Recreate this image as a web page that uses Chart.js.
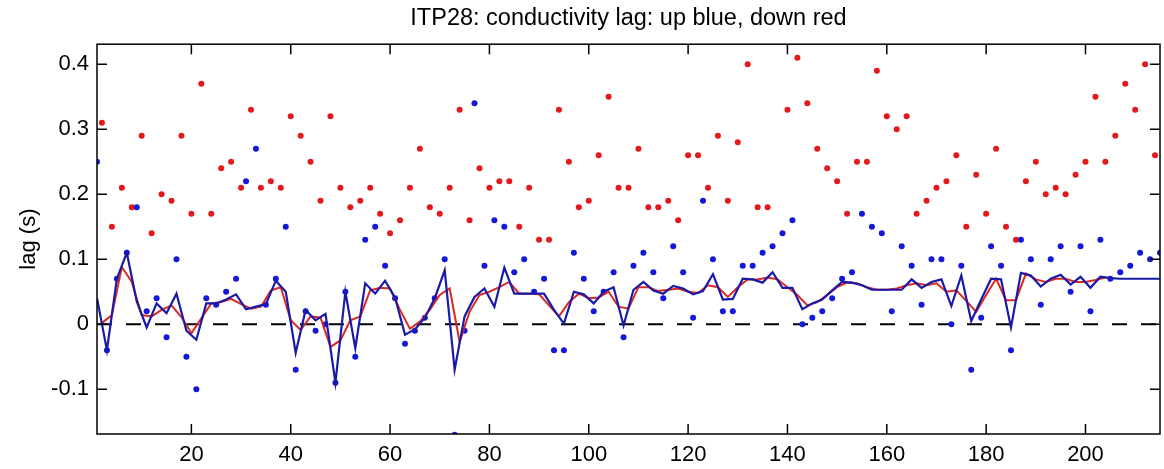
<!DOCTYPE html>
<html>
<head>
<meta charset="utf-8">
<script src="https://cdn.jsdelivr.net/npm/chart.js@4"></script>
<style>
  html, body { margin: 0; padding: 0; background: #fff; }
  canvas { display: block; }
</style>
</head>
<body>
<canvas id="lagChart" width="1164" height="469"></canvas>
<script>
// lag (s) per profile; up casts are the odd profiles, down casts the even ones
const upLag = [
  0.25, -0.04, 0.07, 0.11, 0.18, 0.02, 0.04, -0.02, 0.10, -0.05,
  -0.10, 0.04, 0.03, 0.05, 0.07, 0.22, 0.27, 0.03, 0.07, 0.15,
  -0.07, 0.02, -0.01, 0.00, -0.09, 0.05, -0.05, 0.13, 0.15, 0.09,
  0.04, -0.03, -0.01, 0.01, 0.04, 0.10, -0.17, -0.01, 0.34, 0.09,
  0.16, 0.15, 0.08, 0.10, 0.05, 0.07, -0.04, -0.04, 0.11, 0.07,
  0.02, 0.05, 0.08, -0.02, 0.09, 0.11, 0.08, 0.04, 0.12, 0.08,
  0.01, 0.19, 0.10, 0.02, 0.02, 0.09, 0.09, 0.11, 0.12, 0.14,
  0.16, 0.00, 0.01, 0.02, 0.04, 0.07, 0.08, 0.17, 0.15, 0.14,
  0.02, 0.12, 0.09, 0.03, 0.10, 0.10, 0.00, 0.09, -0.07, 0.01,
  0.12, 0.09, -0.04, 0.13, 0.10, 0.03, 0.10, 0.12, 0.05, 0.12,
  0.02, 0.13, 0.07, 0.08, 0.09, 0.11, 0.10, 0.11
];
const downLag = [
  0.31, 0.15, 0.21, 0.18, 0.29, 0.14, 0.20, 0.19, 0.29, 0.17,
  0.37, 0.17, 0.24, 0.25, 0.21, 0.33, 0.21, 0.22, 0.21, 0.32,
  0.29, 0.25, 0.19, 0.32, 0.21, 0.18, 0.19, 0.21, 0.17, 0.14,
  0.16, 0.21, 0.27, 0.18, 0.17, 0.21, 0.33, 0.16, 0.24, 0.21,
  0.22, 0.22, 0.15, 0.21, 0.13, 0.13, 0.33, 0.25, 0.18, 0.19,
  0.26, 0.35, 0.21, 0.21, 0.27, 0.18, 0.18, 0.19, 0.16, 0.26,
  0.26, 0.21, 0.29, 0.19, 0.28, 0.40, 0.18, 0.18, null, 0.33,
  0.41, 0.34, 0.27, 0.24, 0.22, 0.17, 0.25, 0.25, 0.39, 0.32,
  0.30, 0.32, 0.17, 0.19, 0.21, 0.22, 0.26, 0.15, 0.23, 0.17,
  0.27, 0.15, 0.13, 0.22, 0.25, 0.20, 0.21, 0.20, 0.23, 0.25,
  0.35, 0.25, 0.29, 0.37, 0.33, 0.40, 0.26
];
// smoothed lag, blue line on odd profiles, red line on even profiles
const upSmooth = [
  0.040, -0.040, 0.070, 0.110, 0.035, -0.005, 0.032, 0.017, 0.047, -0.010,
  -0.024, 0.032, 0.032, 0.038, 0.046, 0.023, 0.027, 0.031, 0.067, 0.050,
  -0.044, 0.022, 0.006, 0.016, -0.090, 0.050, -0.037, 0.063, 0.047, 0.067,
  0.041, -0.016, -0.008, 0.010, 0.040, 0.083, -0.070, 0.012, 0.042, 0.055,
  0.027, 0.087, 0.047, 0.047, 0.047, 0.047, 0.022, 0.001, 0.050, 0.046,
  0.032, 0.050, 0.057, -0.002, 0.053, 0.065, 0.052, 0.047, 0.059, 0.055,
  0.046, 0.051, 0.077, 0.038, 0.039, 0.070, 0.069, 0.064, 0.080, 0.056,
  0.056, 0.023, 0.032, 0.038, 0.052, 0.065, 0.064, 0.060, 0.053, 0.053,
  0.053, 0.053, 0.069, 0.056, 0.065, 0.069, 0.028, 0.075, 0.005, 0.038,
  0.070, 0.069, -0.005, 0.079, 0.075, 0.058, 0.070, 0.076, 0.061, 0.073,
  0.056, 0.073, 0.071, 0.070, 0.070, 0.070, 0.070, 0.070
];
const downSmooth = [
  0.002, 0.014, 0.088, 0.065, 0.014, 0.012, 0.022, 0.029, 0.011, -0.014,
  0.009, 0.032, 0.034, 0.039, 0.031, 0.024, 0.027, 0.052, 0.057, 0.006,
  -0.009, 0.012, 0.010, -0.035, -0.025, 0.006, 0.012, 0.052, 0.056, 0.055,
  0.022, -0.007, 0.004, 0.022, 0.045, 0.055, -0.027, 0.019, 0.045, 0.050,
  0.057, 0.065, 0.047, 0.047, 0.046, 0.029, 0.012, 0.034, 0.047, 0.040,
  0.041, 0.050, 0.027, 0.024, 0.057, 0.057, 0.051, 0.053, 0.055, 0.050,
  0.048, 0.060, 0.057, 0.042, 0.057, 0.069, 0.069, 0.072, 0.069, 0.057,
  0.045, 0.029, 0.034, 0.045, 0.057, 0.064, 0.063, 0.057, 0.053, 0.053,
  0.055, 0.060, 0.063, 0.060, 0.063, 0.050, 0.052, 0.036, 0.019, 0.045,
  0.070, 0.037, 0.037, 0.078, 0.069, 0.065, 0.070, 0.070, 0.065, 0.065,
  0.068, 0.072
];
const xTicks = [20, 40, 60, 80, 100, 120, 140, 160, 180, 200];
const yTicks = [-0.1, 0, 0.1, 0.2, 0.3, 0.4];
const xRange = [1, 215];
const yRange = [-0.169, 0.431];

const FONT = '"Liberation Sans", Arial, Helvetica, sans-serif';

// odd profiles for up, even for down
const toPoints = (vals, first) => vals.map((v, k) => ({ x: first + 2 * k, y: v }));

// MATLAB-style box with inward ticks on all four sides
const boxPlugin = {
  id: 'box',
  afterDatasetsDraw(chart) {
    const { ctx, chartArea: a, scales: { x, y } } = chart;
    const len = 10;
    ctx.save();
    ctx.strokeStyle = '#000';
    ctx.lineWidth = 1.5;
    ctx.beginPath();
    x.ticks.forEach(t => {
      const px = x.getPixelForValue(t.value);
      ctx.moveTo(px, a.bottom); ctx.lineTo(px, a.bottom - len);
      ctx.moveTo(px, a.top); ctx.lineTo(px, a.top + len);
    });
    y.ticks.forEach(t => {
      const py = y.getPixelForValue(t.value);
      ctx.moveTo(a.left, py); ctx.lineTo(a.left + len, py);
      ctx.moveTo(a.right, py); ctx.lineTo(a.right - len, py);
    });
    ctx.stroke();
    ctx.strokeRect(a.left, a.top, a.right - a.left, a.bottom - a.top);
    ctx.restore();
  }
};

new Chart(document.getElementById('lagChart'), {
  type: 'scatter',
  data: {
    datasets: [
      {
        // zero reference
        type: 'line',
        data: [{ x: xRange[0], y: 0 }, { x: xRange[1], y: 0 }],
        borderColor: '#000',
        borderWidth: 2,
        borderDash: [15, 14],
        pointRadius: 0,
        order: 5
      },
      {
        data: toPoints(downLag, 2),
        backgroundColor: '#e3191c',
        borderWidth: 0,
        pointRadius: 3,
        order: 4
      },
      {
        data: toPoints(upLag, 1),
        backgroundColor: '#1418d8',
        borderWidth: 0,
        pointRadius: 3,
        order: 3
      },
      {
        type: 'line',
        data: toPoints(downSmooth, 2),
        borderColor: '#dc2a22',
        borderWidth: 2,
        pointRadius: 0,
        tension: 0,
        order: 2
      },
      {
        type: 'line',
        data: toPoints(upSmooth, 1),
        borderColor: '#1a1aa8',
        borderWidth: 2.2,
        pointRadius: 0,
        tension: 0,
        order: 1
      }
    ]
  },
  options: {
    responsive: false,
    animation: false,
    layout: { padding: { left: 0, right: 1, top: 0, bottom: 0 } },
    plugins: {
      legend: { display: false },
      tooltip: { enabled: false },
      title: {
        display: true,
        fullSize: false,
        text: 'ITP28: conductivity lag: up blue, down red',
        color: '#000',
        font: { family: FONT, size: 23.5, weight: 'normal' },
        padding: { top: 4, bottom: 12 }
      }
    },
    scales: {
      x: {
        type: 'linear',
        min: xRange[0],
        max: xRange[1],
        grid: { display: false },
        border: { display: false },
        afterBuildTicks: s => { s.ticks = xTicks.map(v => ({ value: v })); },
        afterFit: s => { s.height = 35; },
        ticks: {
          color: '#000',
          font: { family: FONT, size: 22 },
          padding: 0,
          maxRotation: 0
        }
      },
      y: {
        min: yRange[0],
        max: yRange[1],
        grid: { display: false },
        border: { display: false },
        afterBuildTicks: s => { s.ticks = yTicks.map(v => ({ value: v })); },
        afterFit: s => { s.width = 97; },
        ticks: {
          color: '#000',
          font: { family: FONT, size: 22 },
          padding: 0,
          callback: v => (Math.abs(v) < 1e-9 ? '0' : String(Math.round(v * 10) / 10))
        },
        title: {
          display: true,
          text: 'lag (s)',
          color: '#000',
          font: { family: FONT, size: 22 },
          padding: { top: 16, bottom: 0 }
        }
      }
    }
  },
  plugins: [boxPlugin]
});
</script>
</body>
</html>
